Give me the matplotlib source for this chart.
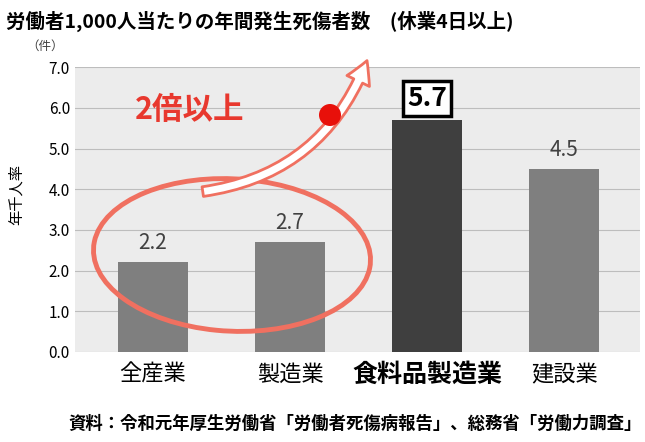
import matplotlib
matplotlib.use("Agg")
import matplotlib.pyplot as plt
from matplotlib.patches import Ellipse, FancyArrowPatch

plt.rcParams['font.family'] = ['Noto Sans CJK JP', 'DejaVu Sans']

categories = ["全産業", "製造業", "食料品製造業", "建設業"]
values = [2.2, 2.7, 5.7, 4.5]
labels = ["2.2", "2.7", "5.7", "4.5"]
colors = ["#7f7f7f", "#7f7f7f", "#3f3f3f", "#7f7f7f"]
yticks = [0, 1, 2, 3, 4, 5, 6, 7]

fig = plt.figure(figsize=(6.45, 4.42), dpi=100)
ax = fig.add_axes([0.116, 0.204, 0.876, 0.644])
ax.set_facecolor("#ececec")
x = list(range(len(categories)))
ax.bar(x, values, width=0.51, color=colors, zorder=3)
ax.set_xlim(-0.57, 3.55)
ax.set_ylim(0, 7.0)
ax.set_yticks(yticks)
ax.set_yticklabels([f"{v:.1f}" for v in yticks], fontsize=11)
ax.grid(axis="y", color="#bdbdbd", lw=0.8, zorder=1)
for s in ax.spines.values():
    s.set_visible(False)
ax.tick_params(length=0, axis="x", pad=8)
ax.tick_params(length=0, axis="y")
ax.set_xticks(x)
ax.set_xticklabels(categories, fontsize=16)
for t, c in zip(ax.get_xticklabels(), categories):
    if c == "食料品製造業":
        t.set_fontweight("bold"); t.set_fontsize(18)
for i, (v, l) in enumerate(zip(values, labels)):
    if i == 2:
        ax.text(i, v + 0.2, l, ha="center", va="bottom", fontsize=19, fontweight="bold",
                bbox=dict(boxstyle="square,pad=0.15", fc="white", ec="black", lw=2.5), zorder=5)
    else:
        ax.text(i, v + 0.2, l, ha="center", va="bottom", fontsize=15, color="#404040", zorder=5)

fig.text(0.01, 0.975, "労働者1,000人当たりの年間発生死傷者数　(休業4日以上)", fontsize=14,
         fontweight="bold", va="top", ha="left")
fig.text(0.04, 0.895, "（件）", fontsize=9, va="center", color="#404040")
fig.text(0.025, 0.56, "年千人率", rotation=90, fontsize=11, va="center", ha="center")
fig.text(0.995, 0.04, "資料：令和元年厚生労働省「労働者死傷病報告」、総務省「労働力調査」",
         fontsize=12.5, ha="right", va="center", fontweight="bold")

def fx(px): return px / 645
def fy(py): return 1 - py / 442
ell = Ellipse((fx(232), fy(255)), width=fx(278), height=152 / 442, angle=-8,
              transform=fig.transFigure, fill=False, ec="#f07060", lw=3.5, zorder=6)
fig.add_artist(ell)
arr = FancyArrowPatch((fx(200), fy(192)), (fx(368), fy(58)), transform=fig.transFigure,
                      connectionstyle="arc3,rad=0.3",
                      arrowstyle="simple,tail_width=7,head_width=18,head_length=16",
                      fc="white", ec="#f07060", lw=2, zorder=7)
fig.add_artist(arr)
fig.text(fx(135), fy(110), "2倍以上", fontsize=22, fontweight="bold", color="#e8382e",
         va="center", ha="left", zorder=8)
fig.add_artist(Ellipse((fx(330), fy(115)), width=fx(22), height=22 / 442,
                       transform=fig.transFigure, fc="#e8100a", ec="none", zorder=8))
fig.savefig("out.png", dpi=100)
